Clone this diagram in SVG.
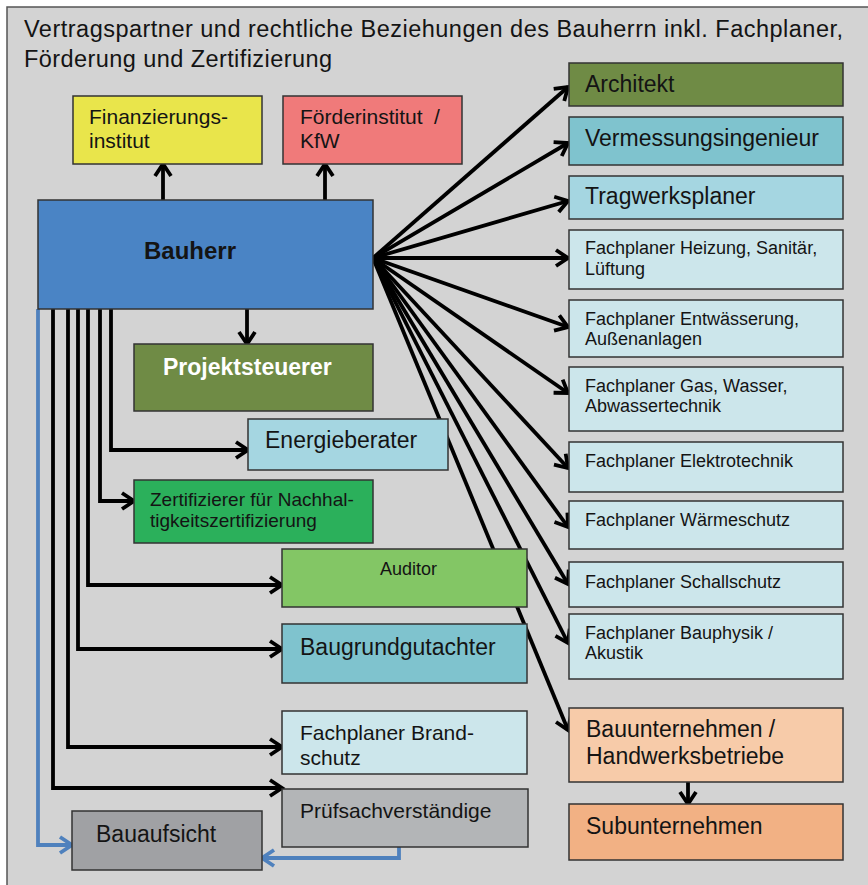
<svg xmlns="http://www.w3.org/2000/svg" width="868" height="885" viewBox="0 0 868 885">
<defs>
<style>
.b{stroke:#333;stroke-width:1.5}
.t{font-family:"Liberation Sans",Arial,sans-serif;fill:#141414}
.s18{font-size:18px}
.s19{font-size:19px}
.s21{font-size:21px}
.s23{font-size:23px}
.c{fill:none;stroke:#000;stroke-width:3.8;marker-end:url(#ah)}
.cb{fill:none;stroke:#4F81BD;stroke-width:3.8;marker-end:url(#ahb)}
</style>
<marker id="ah" viewBox="-3 -3 20 22" markerWidth="20" markerHeight="22" refX="12" refY="8" markerUnits="userSpaceOnUse" orient="auto">
<path d="M0,0 L12,8 L0,16" fill="none" stroke="#000" stroke-width="3.8"/>
</marker>
<marker id="ahb" viewBox="-3 -3 20 22" markerWidth="20" markerHeight="22" refX="12" refY="8" markerUnits="userSpaceOnUse" orient="auto">
<path d="M0,0 L12,8 L0,16" fill="none" stroke="#4F81BD" stroke-width="3.8"/>
</marker>
</defs>
<rect x="0" y="0" width="868" height="885" fill="#fff"/>
<rect x="7" y="7" width="900" height="900" fill="#D3D3D3" stroke="#555" stroke-width="1.5"/>
<g id="title" class="t">
<text x="24" y="37" font-size="23.5" textLength="819">Vertragspartner und rechtliche Beziehungen des Bauherrn inkl. Fachplaner,</text>
<text x="24" y="67" font-size="23.5" textLength="308">Förderung und Zertifizierung</text>
</g>
<g id="connectors">
<path class="c" d="M163,200 V164"/>
<path class="c" d="M325,200 V164"/>
<path class="c" d="M247,309 V344"/>
<path class="c" d="M111,309 V450 H248"/>
<path class="c" d="M100,309 V501 H134"/>
<path class="c" d="M88,309 V585 H282"/>
<path class="c" d="M78,309 V649 H282"/>
<path class="c" d="M68,309 V747 H282"/>
<path class="c" d="M53,309 V788 H282"/>
<path class="cb" d="M38,309 V845 H72"/>
<path class="cb" d="M399,847 V858 H262"/>
<path class="c" d="M688,782 V804"/>
<path class="c" d="M373,258 L568,87"/>
<path class="c" d="M373,258 L568,143"/>
<path class="c" d="M373,258 L568,201"/>
<path class="c" d="M373,258 L568,258"/>
<path class="c" d="M373,258 L568,327"/>
<path class="c" d="M373,258 L568,393"/>
<path class="c" d="M373,258 L568,468"/>
<path class="c" d="M373,258 L568,527"/>
<path class="c" d="M373,258 L568,584"/>
<path class="c" d="M373,258 L568,643"/>
<path class="c" d="M373,258 L568,730"/>
</g>
<g id="finanzierungsinstitut">
<rect class="b" x="73" y="96" width="189" height="68" fill="#E9E54B"/>
<text class="t s21" x="89" y="124">Finanzierungs-</text>
<text class="t s21" x="89" y="148">institut</text>
</g>
<g id="foerderinstitut">
<rect class="b" x="283" y="96" width="179" height="68" fill="#F07A7A"/>
<text class="t s21" x="300" y="124">Förderinstitut</text>
<text class="t s21" x="434" y="124">/</text>
<text class="t s21" x="300" y="148">KfW</text>
</g>
<g id="bauherr">
<rect class="b" x="38" y="200" width="335" height="109" fill="#4A84C5"/>
<text class="t" x="144" y="259" font-size="24" font-weight="bold">Bauherr</text>
</g>
<g id="projektsteuerer">
<rect class="b" x="134" y="344" width="239" height="67" fill="#6F8B45"/>
<text class="t" x="163" y="375" font-size="23" font-weight="bold" style="fill:#fff">Projektsteuerer</text>
</g>
<g id="energieberater">
<rect class="b" x="248" y="419" width="200" height="51" fill="#A5D6E1"/>
<text class="t s23" x="265" y="448">Energieberater</text>
</g>
<g id="zertifizierer">
<rect class="b" x="134" y="480" width="239" height="63" fill="#2BB05B"/>
<text class="t s19" x="150" y="506">Zertifizierer für Nachhal-</text>
<text class="t s19" x="150" y="527">tigkeitszertifizierung</text>
</g>
<g id="auditor">
<rect class="b" x="282" y="549" width="245" height="58" fill="#83C665"/>
<text class="t s18" x="380" y="575">Auditor</text>
</g>
<g id="baugrundgutachter">
<rect class="b" x="282" y="624" width="245" height="59" fill="#7FC3CE"/>
<text class="t s23" x="300" y="655">Baugrundgutachter</text>
</g>
<g id="brandschutz">
<rect class="b" x="282" y="711" width="245" height="63" fill="#CCE6EB"/>
<text class="t s21" x="300" y="740">Fachplaner Brand-</text>
<text class="t s21" x="300" y="765">schutz</text>
</g>
<g id="pruefsachverstaendige">
<rect class="b" x="282" y="789" width="246" height="58" fill="#B3B5B7"/>
<text class="t s21" x="300" y="818">Prüfsachverständige</text>
</g>
<g id="bauaufsicht">
<rect class="b" x="72" y="811" width="190" height="59" fill="#A0A1A4"/>
<text class="t s23" x="96" y="842">Bauaufsicht</text>
</g>
<g id="architekt">
<rect class="b" x="569" y="63" width="274" height="43" fill="#6F8B45"/>
<text class="t s23" x="585" y="92">Architekt</text>
</g>
<g id="vermessungsingenieur">
<rect class="b" x="569" y="117" width="274" height="48" fill="#7FC3CE"/>
<text class="t s23" x="585" y="146">Vermessungsingenieur</text>
</g>
<g id="tragwerksplaner">
<rect class="b" x="569" y="176" width="274" height="43" fill="#A5D6E1"/>
<text class="t s23" x="585" y="204">Tragwerksplaner</text>
</g>
<g id="heizung">
<rect class="b" x="569" y="230" width="274" height="59" fill="#CCE6EB"/>
<text class="t s18" x="585" y="254">Fachplaner Heizung, Sanitär,</text>
<text class="t s18" x="585" y="275">Lüftung</text>
</g>
<g id="entwaesserung">
<rect class="b" x="569" y="300" width="274" height="57" fill="#CCE6EB"/>
<text class="t s18" x="585" y="325">Fachplaner Entwässerung,</text>
<text class="t s18" x="585" y="345">Außenanlagen</text>
</g>
<g id="gas">
<rect class="b" x="569" y="367" width="274" height="64" fill="#CCE6EB"/>
<text class="t s18" x="585" y="392">Fachplaner Gas, Wasser,</text>
<text class="t s18" x="585" y="412">Abwassertechnik</text>
</g>
<g id="elektrotechnik">
<rect class="b" x="569" y="442" width="274" height="50" fill="#CCE6EB"/>
<text class="t s18" x="585" y="467">Fachplaner Elektrotechnik</text>
</g>
<g id="waermeschutz">
<rect class="b" x="569" y="501" width="274" height="48" fill="#CCE6EB"/>
<text class="t s18" x="585" y="526">Fachplaner Wärmeschutz</text>
</g>
<g id="schallschutz">
<rect class="b" x="569" y="562" width="274" height="45" fill="#CCE6EB"/>
<text class="t s18" x="585" y="588">Fachplaner Schallschutz</text>
</g>
<g id="bauphysik">
<rect class="b" x="569" y="614" width="274" height="65" fill="#CCE6EB"/>
<text class="t s18" x="585" y="639">Fachplaner Bauphysik /</text>
<text class="t s18" x="585" y="659">Akustik</text>
</g>
<g id="bauunternehmen">
<rect class="b" x="569" y="708" width="274" height="74" fill="#F7CBA9"/>
<text class="t s23" x="586" y="737">Bauunternehmen /</text>
<text class="t s23" x="586" y="764">Handwerksbetriebe</text>
</g>
<g id="subunternehmen">
<rect class="b" x="569" y="804" width="274" height="56" fill="#F2B184"/>
<text class="t s23" x="586" y="834">Subunternehmen</text>
</g>
</svg>
